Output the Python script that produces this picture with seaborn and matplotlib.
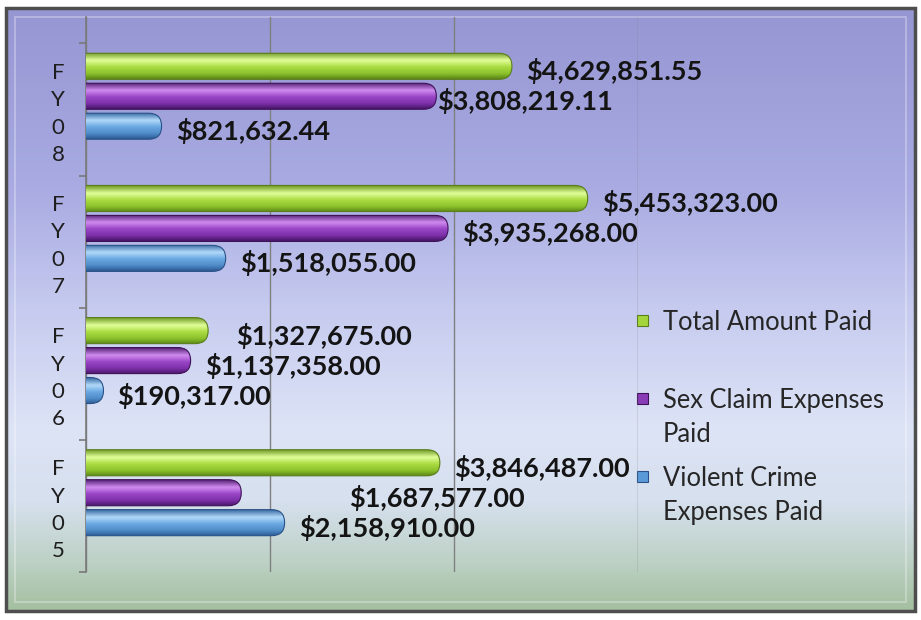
import numpy as np
import pandas as pd
import matplotlib
matplotlib.use('Agg')
import matplotlib.pyplot as plt
import seaborn as sns
from matplotlib.colors import LinearSegmentedColormap
from matplotlib.patches import FancyBboxPatch, Rectangle

# --- data ---
years = ['FY08', 'FY07', 'FY06', 'FY05']
series = ['Total Amount Paid', 'Sex Claim Expenses Paid', 'Violent Crime Expenses Paid']
total_paid = [4629851.55, 5453323.00, 1327675.00, 3846487.00]
sex_claim_paid = [3808219.11, 3935268.00, 1137358.00, 1687577.00]
violent_crime_paid = [821632.44, 1518055.00, 190317.00, 2158910.00]
legend_labels = ['Total Amount Paid', 'Sex Claim Expenses\nPaid', 'Violent Crime\nExpenses Paid']

df = pd.DataFrame({
    'Year': years * 3,
    'Series': [s for s in series for _ in years],
    'Amount': total_paid + sex_claim_paid + violent_crime_paid,
})

# cylinder shading (top -> bottom) per series
shades = {
    'Total Amount Paid': ['#6a9420', '#e2ff9a', '#abdc42', '#8cc22c', '#5c8618'],
    'Sex Claim Expenses Paid': ['#4c186c', '#d08cf0', '#9a46c6', '#7c30a8', '#481668'],
    'Violent Crime Expenses Paid': ['#30629c', '#b2d9fa', '#6aa8e2', '#4f8cc8', '#2c5a94'],
}
mid_colors = ['#a4d63c', '#8a3cb6', '#5a9ad8']
edge_colors = ['#5a7e1a', '#3e1258', '#2a5288']

# labels moved by hand in the original (px)
label_shift = {('Sex Claim Expenses Paid', 'FY08'): -13,
               ('Total Amount Paid', 'FY06'): 14,
               ('Sex Claim Expenses Paid', 'FY05'): 94}

W, H = 921, 620
fig = plt.figure(figsize=(W / 100, H / 100), dpi=100)

# background frame with gradient
bg = fig.add_axes([0, 0, 1, 1])
bg.set_xlim(0, W)
bg.set_ylim(H, 0)
bg.axis('off')
bg_cmap = LinearSegmentedColormap.from_list('bg', [
    (0.0, '#9696d3'), (0.3, '#a9abe2'), (0.5, '#c6cbef'), (0.7, '#dde4f6'),
    (0.82, '#d6e0ee'), (0.92, '#bdd1c5'), (1.0, '#a4bfa0')])
bg.imshow(np.linspace(0, 1, 256)[:, None], cmap=bg_cmap, extent=(6, 915, 611, 8),
          aspect='auto', zorder=0)
bg.add_patch(Rectangle((6, 8), 909, 603, fill=False, ec='#4e4e4e', lw=2.5, zorder=2))
bg.add_patch(Rectangle((15, 17), 891, 585, fill=False, ec='white', alpha=0.35, lw=1.2, zorder=2))

# plot area: x 0..6M between px 86 and 638, y axis from px 17 to 572
ax = fig.add_axes([86 / W, 1 - 572 / H, (638 - 86) / W, (572 - 17) / H])
ax.patch.set_alpha(0)

sns.barplot(data=df, y='Year', x='Amount', hue='Series', order=years, hue_order=series,
            orient='h', width=0.68, gap=0.13, palette=mid_colors, legend=False, ax=ax)

xmax = 6e6
ax.set_xlim(0, xmax)
ax.set_ylim(3.6, -0.6)
px_x = xmax / (638 - 86)
px_y = 4.2 / (572 - 17)

for i, (name, cont) in enumerate(zip(series, ax.containers)):
    cmap = LinearSegmentedColormap.from_list(name, list(zip([0, 0.3, 0.55, 0.8, 1], shades[name])))
    for year, bar in zip(years, cont):
        x0, y0 = bar.get_x(), bar.get_y()
        w, h = bar.get_width(), bar.get_height()
        bar.set_visible(False)
        r = (h / 2) / px_y * px_x
        shape = FancyBboxPatch((-r, y0), w + r, h, boxstyle=f'round,pad=0,rounding_size={r}',
                               mutation_aspect=(h / 2) / r, fc='none', ec=edge_colors[i],
                               lw=0.8, zorder=4)
        ax.add_patch(shape)
        im = ax.imshow(np.linspace(0, 1, 64)[:, None], cmap=cmap, vmin=0, vmax=1,
                       extent=(-r, x0 + w, y0 + h, y0), aspect='auto',
                       interpolation='bicubic', zorder=3)
        im.set_clip_path(shape)
        dx = 14 + label_shift.get((name, year), 0)
        ax.annotate(f'${w:,.2f}', xy=(w, y0 + h / 2), xytext=(dx * 0.72, -5 * 0.72),
                    textcoords='offset points', ha='left', va='center', fontsize=19.5,
                    fontweight='bold', family='Lato', color='#141414',
                    annotation_clip=False, zorder=5)

ax.set_xlim(0, xmax)
ax.set_ylim(3.6, -0.6)

# grid and axes styling
ax.set_xticks([0, 2e6, 4e6, 6e6])
ax.set_xticklabels([])
ax.xaxis.grid(True, color='#808080', lw=1)
ax.set_axisbelow(True)
ax.tick_params(axis='x', length=0)
for s in ['top', 'right', 'bottom']:
    ax.spines[s].set_visible(False)
ax.spines['left'].set_color('#7a7a7a')
ax.spines['left'].set_linewidth(1.2)

off = 12 * px_y
ax.set_yticks([k + off for k in range(len(years))])
ax.set_yticklabels(['\n'.join(y) for y in years], family='Lato', fontsize=16,
                   color='#1e1e1e', linespacing=1.46, ha='center')
ax.tick_params(axis='y', length=0, pad=20)
ax.set_yticks([k + 0.6 for k in range(-1, len(years))], minor=True)
ax.tick_params(axis='y', which='minor', length=5, color='#7a7a7a', width=1.2)
ax.set_xlabel('')
ax.set_ylabel('')

# legend drawn beside the plot area
legend_y = [320, 398, 476]
for i, (lab, ly) in enumerate(zip(legend_labels, legend_y)):
    bg.add_patch(Rectangle((637, ly - 5), 11, 11, fc=mid_colors[i], ec=edge_colors[i],
                           lw=0.8, zorder=3))
    bg.text(663, ly - 10, lab, ha='left', va='top', fontsize=18.4, family='Lato',
            color='#262626', linespacing=1.46, zorder=3)

fig.savefig('out.png', dpi=100)
